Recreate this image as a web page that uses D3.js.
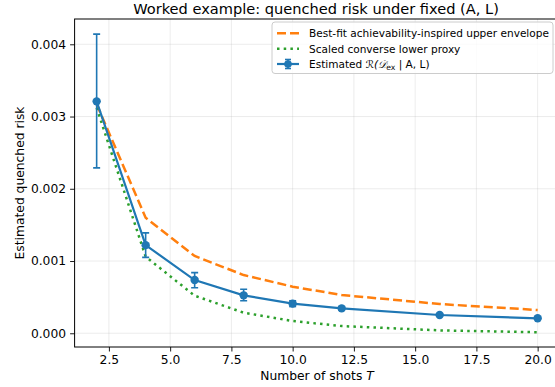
<!DOCTYPE html>
<html><head><meta charset="utf-8">
<script src="https://cdn.jsdelivr.net/npm/d3@7"></script>
<style>body{margin:0;background:#fff}svg{display:block;font-family:"DejaVu Sans",sans-serif}</style>
</head><body><svg id="c" width="555" height="387"></svg>
<script>
const shots = [2, 4, 6, 8, 10, 12, 16, 20];
const estimated = [0.00321, 0.00122, 0.000737, 0.000525, 0.00041, 0.000345, 0.000253, 0.000207];
const errLow = [0.00229, 0.00105, 0.00063, 0.00045, 0.00037, 0.00032, 0.000243, 0.000199];
const errHigh = [0.00414, 0.00139, 0.00084, 0.00061, 0.00045, 0.00037, 0.000263, 0.000215];
const upperEnvelope = [0.00317, 0.00160, 0.00107, 0.000806, 0.000645, 0.00053, 0.000405, 0.000322];
const lowerProxy = [0.00312, 0.00106, 0.00052, 0.000285, 0.00017, 0.00010, 0.00004, 0.000014];
const xTicks = [2.5, 5, 7.5, 10, 12.5, 15, 17.5, 20];
const yTicks = [0, 0.001, 0.002, 0.003, 0.004];

const svg = d3.select("#c");
const L = 74.6, R = 559.7, T = 19, B = 347;
const x = d3.scaleLinear().domain([1.1, 20.9]).range([L, R]);
const y = d3.scaleLinear().domain([-0.00019, 0.00435]).range([B, T]);

const blue = "#1f77b4", orange = "#ff7f0e", green = "#2ca02c";

// grid
const g = svg.append("g");
g.selectAll(".gx").data(xTicks).join("line")
  .attr("x1", d => x(d)).attr("x2", d => x(d)).attr("y1", T).attr("y2", B)
  .attr("stroke", "#b0b0b0").attr("stroke-opacity", 0.3).attr("stroke-width", 0.8);
g.selectAll(".gy").data(yTicks).join("line")
  .attr("x1", L).attr("x2", R).attr("y1", d => y(d)).attr("y2", d => y(d))
  .attr("stroke", "#b0b0b0").attr("stroke-opacity", 0.3).attr("stroke-width", 0.8);

svg.append("defs").append("clipPath").attr("id", "clp")
  .append("rect").attr("x", L).attr("y", T).attr("width", R - L).attr("height", B - T);
const plot = svg.append("g").attr("clip-path", "url(#clp)");

const line = d3.line().x((d, i) => x(shots[i])).y(d => y(d));
const dashO = "9,4", dashG = "2.5,4.2";

plot.append("path").datum(upperEnvelope).attr("d", line).attr("fill", "none")
  .attr("stroke", orange).attr("stroke-width", 2.5).attr("stroke-dasharray", dashO);
plot.append("path").datum(lowerProxy).attr("d", line).attr("fill", "none")
  .attr("stroke", green).attr("stroke-width", 2.5).attr("stroke-dasharray", dashG);
plot.append("path").datum(estimated).attr("d", line).attr("fill", "none")
  .attr("stroke", blue).attr("stroke-width", 2.2);

// error bars
const eb = plot.append("g").attr("stroke", blue).attr("stroke-width", 1.6);
shots.forEach((s, i) => {
  eb.append("line").attr("x1", x(s)).attr("x2", x(s)).attr("y1", y(errLow[i])).attr("y2", y(errHigh[i]));
  [errLow[i], errHigh[i]].forEach(v => eb.append("line").attr("x1", x(s) - 3.5).attr("x2", x(s) + 3.5).attr("y1", y(v)).attr("y2", y(v)));
});
plot.selectAll(".pt").data(estimated).join("circle")
  .attr("cx", (d, i) => x(shots[i])).attr("cy", d => y(d)).attr("r", 4.2).attr("fill", blue);

// spines
svg.append("rect").attr("x", L).attr("y", T).attr("width", R - L).attr("height", B - T)
  .attr("fill", "none").attr("stroke", "#000").attr("stroke-width", 1);

// axes
const xa = svg.append("g").attr("transform", `translate(0,${B})`)
  .call(d3.axisBottom(x).tickValues(xTicks).tickFormat(d3.format(".1f")).tickSize(4.5).tickPadding(4));
const ya = svg.append("g").attr("transform", `translate(${L},0)`)
  .call(d3.axisLeft(y).tickValues(yTicks).tickFormat(d3.format(".3f")).tickSize(4.5).tickPadding(4));
[xa, ya].forEach(a => {
  a.select(".domain").remove();
  a.selectAll("text").attr("font-size", 12.3).attr("font-family", "DejaVu Sans").attr("fill", "#000");
  a.selectAll("line").attr("stroke", "#000").attr("stroke-width", 0.9);
});

// labels
svg.append("text").attr("x", 316).attr("y", 14).attr("text-anchor", "middle")
  .attr("font-size", 14.6).text("Worked example: quenched risk under fixed (A, L)");
const xl = svg.append("text").attr("x", 317).attr("y", 380).attr("text-anchor", "middle").attr("font-size", 12.3);
xl.append("tspan").text("Number of shots ");
xl.append("tspan").attr("font-style", "italic").text("T");
svg.append("text").attr("transform", `translate(24,${(T + B) / 2}) rotate(-90)`)
  .attr("text-anchor", "middle").attr("font-size", 12.3).text("Estimated quenched risk");

// legend
const lg = svg.append("g");
lg.append("rect").attr("x", 272).attr("y", 22).attr("width", 281).attr("height", 51.5).attr("rx", 3)
  .attr("fill", "#fff").attr("fill-opacity", 0.8).attr("stroke", "#ccc").attr("stroke-width", 1);
const ly = [33.3, 48.8, 64];
const lx0 = 277, lx1 = 299;
lg.append("line").attr("x1", lx0).attr("x2", lx1).attr("y1", ly[0]).attr("y2", ly[0])
  .attr("stroke", orange).attr("stroke-width", 2.5).attr("stroke-dasharray", dashO);
lg.append("line").attr("x1", lx0).attr("x2", lx1).attr("y1", ly[1]).attr("y2", ly[1])
  .attr("stroke", green).attr("stroke-width", 2.5).attr("stroke-dasharray", dashG);
lg.append("line").attr("x1", lx0).attr("x2", lx1).attr("y1", ly[2]).attr("y2", ly[2]).attr("stroke", blue).attr("stroke-width", 2.2);
lg.append("line").attr("x1", 288).attr("x2", 288).attr("y1", ly[2] - 4.5).attr("y2", ly[2] + 4.5).attr("stroke", blue).attr("stroke-width", 1.6);
[-4.5, 4.5].forEach(o => lg.append("line").attr("x1", 285).attr("x2", 291).attr("y1", ly[2] + o).attr("y2", ly[2] + o).attr("stroke", blue).attr("stroke-width", 1.6));
lg.append("circle").attr("cx", 288).attr("cy", ly[2]).attr("r", 3.8).attr("fill", blue);
const labels = ["Best-fit achievability-inspired upper envelope", "Scaled converse lower proxy"];
labels.forEach((t, i) => lg.append("text").attr("x", 309).attr("y", ly[i] + 4).attr("font-size", 10.55).text(t));
const lt = lg.append("text").attr("x", 309).attr("y", ly[2] + 4).attr("font-size", 10.55);
lt.append("tspan").text("Estimated ");
lt.append("tspan").attr("font-style", "italic").text("\u211B(\uD835\uDC9F");
lt.append("tspan").attr("font-size", 7.7).attr("dy", 2).text("ex");
lt.append("tspan").attr("dy", -2).text(" | A, L)");
</script></body></html>
